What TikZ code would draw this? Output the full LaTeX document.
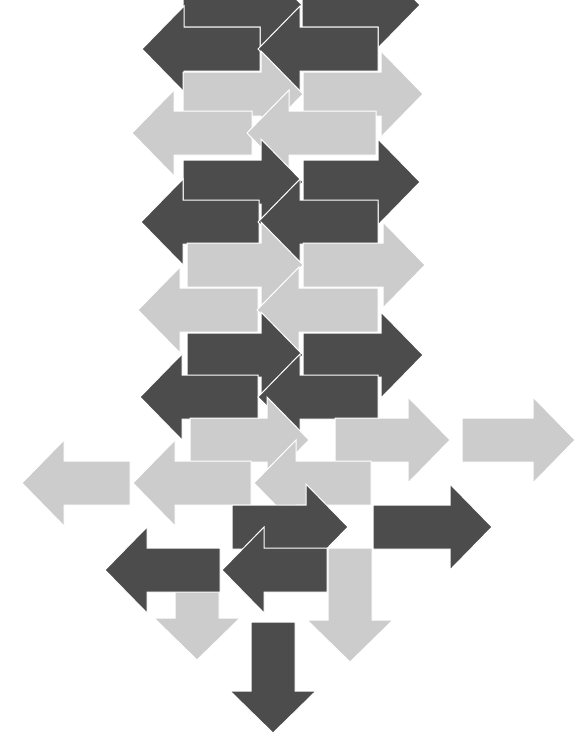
\documentclass[tikz,border=0pt]{standalone}
\definecolor{dk}{gray}{0.30}
\definecolor{lt}{gray}{0.80}
\tikzset{arrowshape/.style={fill=#1, draw=white, line width=1pt, line join=miter}}
% right arrow: colour, tail x, centre y, length
\newcommand\ArrR[4]{\path[arrowshape=#1] ({#2},{#3-22}) -- ({#2+#4-42},{#3-22}) -- ({#2+#4-42},{#3-43}) -- ({#2+#4},{#3}) -- ({#2+#4-42},{#3+43}) -- ({#2+#4-42},{#3+22}) -- ({#2},{#3+22}) -- cycle;}
% left arrow: colour, tip x, centre y, length
\newcommand\ArrL[4]{\path[arrowshape=#1] ({#2},{#3}) -- ({#2+42},{#3-43}) -- ({#2+42},{#3-22}) -- ({#2+#4},{#3-22}) -- ({#2+#4},{#3+22}) -- ({#2+42},{#3+22}) -- ({#2+42},{#3+43}) -- cycle;}
% down arrow: colour, centre x, top y, length
\newcommand\ArrD[4]{\path[arrowshape=#1] ({#2-22},{#3}) -- ({#2+22},{#3}) -- ({#2+22},{#3+#4-42}) -- ({#2+43},{#3+#4-42}) -- ({#2},{#3+#4}) -- ({#2-43},{#3+#4-42}) -- ({#2-22},{#3+#4-42}) -- cycle;}
\begin{document}
\begin{tikzpicture}[x=1pt,y=-1pt]
\useasboundingbox (0,0) rectangle (576,747);
\clip (0,0) rectangle (576,747);
\fill[white] (0,0) rectangle (576,747);
% period 0
\ArrR{dk}{183}{5}{119}
\ArrR{dk}{302}{5}{118}
\ArrL{dk}{142}{49}{118}
\ArrL{dk}{258}{49}{120}
\ArrR{lt}{183}{94}{120}
\ArrR{lt}{303}{94}{120}
\ArrL{lt}{132}{133}{120}
\ArrL{lt}{247}{133}{129}
% period 1
\ArrR{dk}{183}{182}{120}
\ArrR{dk}{303}{182}{117}
\ArrL{dk}{141}{222}{118}
\ArrL{dk}{258}{222}{120}
\ArrR{lt}{187}{265}{116}
\ArrR{lt}{303}{265}{122}
\ArrL{lt}{138}{310}{120}
\ArrL{lt}{257}{310}{121}
% period 2
\ArrR{dk}{187}{355}{116}
\ArrR{dk}{303}{355}{120}
\ArrL{dk}{140}{397}{118}
\ArrL{dk}{258}{397}{120}
\ArrR{lt}{190}{440}{119}
\ArrR{lt}{335}{440}{115}
\ArrR{lt}{462}{440}{113}
\ArrL{lt}{22}{483}{108}
\ArrL{lt}{133}{483}{118}
\ArrL{lt}{254}{483}{117}
% bottom
\ArrD{lt}{197}{560}{100}
\ArrD{lt}{350}{548}{114}
\ArrR{dk}{232}{527}{116}
\ArrR{dk}{373}{527}{119}
\ArrL{dk}{105}{570}{115}
\ArrL{dk}{222}{570}{105}
\ArrD{dk}{273}{622}{111}
\end{tikzpicture}
\end{document}
